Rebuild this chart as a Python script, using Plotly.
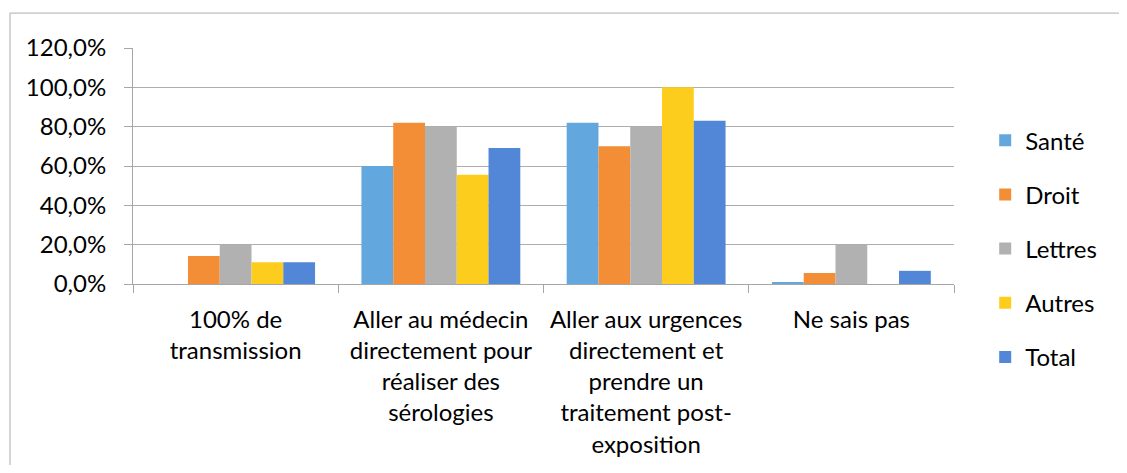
import plotly.graph_objects as go

categories = [
    "100% de<br>transmission",
    "Aller au médecin<br>directement pour<br>réaliser des<br>sérologies",
    "Aller aux urgences<br>directement et<br>prendre un<br>traitement post-<br>exposition",
    "Ne sais pas",
]
series_names = ["Santé", "Droit", "Lettres", "Autres", "Total"]
sante = [0.0, 0.60, 0.82, 0.01]
droit = [0.143, 0.82, 0.70, 0.056]
lettres = [0.20, 0.80, 0.80, 0.20]
autres = [0.111, 0.555, 1.00, 0.0]
total = [0.111, 0.692, 0.83, 0.067]
values = [sante, droit, lettres, autres, total]
colors = ["#62A7DE", "#F38E36", "#B1B1B1", "#FDCD1E", "#5286D6"]

FONT = "Lato"
FS = 24
fig = go.Figure()
for i, (name, vals, col) in enumerate(zip(series_names, values, colors)):
    fig.add_trace(go.Bar(
        x=categories, y=vals, name=name,
        marker=dict(color=col, line=dict(width=0)),
        legendgroup=name,
    ))

fig.update_layout(
    width=1111, height=457,
    margin=dict(l=125, r=165, t=40, b=181, autoexpand=False),
    paper_bgcolor="white", plot_bgcolor="white",
    barmode="group", bargap=0.226, bargroupgap=0,
    separators=", ",
    font=dict(family=FONT, size=FS, color="#000000"),
    showlegend=True,
    legend=dict(x=1.038, xanchor="left", y=0.150, yanchor="middle",
                tracegroupgap=20, traceorder="grouped", maxheight=440,
                font=dict(family=FONT, size=FS, color="#000000"),
                bgcolor="rgba(0,0,0,0)"),
    xaxis=dict(showline=True, linecolor="#A6A6A6", linewidth=1,
               ticks="outside", ticklen=8, tickcolor="#A6A6A6",
               tickson="boundaries", showgrid=False,
               ticklabelstandoff=14,
               tickfont=dict(family=FONT, size=FS), tickangle=0),
    yaxis=dict(range=[0, 1.2], dtick=0.2, tickformat=".1%",
               showline=True, linecolor="#A6A6A6", linewidth=1,
               ticks="outside", ticklen=8, tickcolor="#A6A6A6",
               showgrid=True, gridcolor="#ADADAD", gridwidth=1,
               zeroline=False, ticklabelstandoff=13,
               tickfont=dict(family=FONT, size=FS)),
    shapes=[dict(type="rect", xref="paper", yref="paper",
                 x0=-0.1498, x1=1.4, y0=-1.0, y1=1.148,
                 line=dict(color="#BFBFBF", width=1.3), layer="below")],
)

fig.write_html("out.html")
